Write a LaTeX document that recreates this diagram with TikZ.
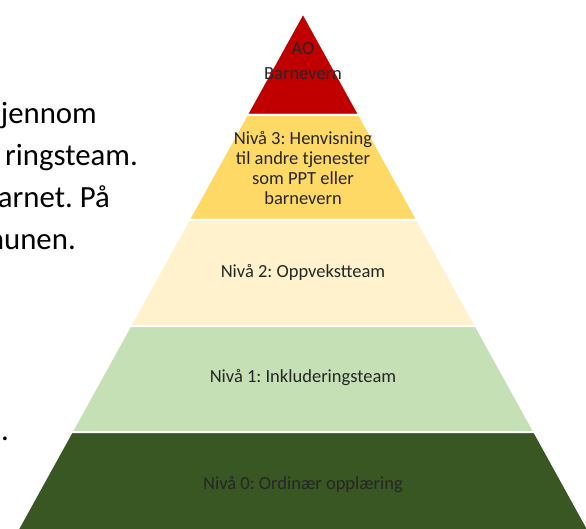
\documentclass[tikz,border=0pt]{standalone}
\usepackage{fontspec}
\setmainfont{Carlito}
\frenchspacing
\definecolor{lvlred}{HTML}{C00000}
\definecolor{lvlyellow}{HTML}{FFD966}
\definecolor{lvlcream}{HTML}{FFF2CC}
\definecolor{lvllight}{HTML}{C5E0B4}
\definecolor{lvldark}{HTML}{385723}
\newcommand{\pyrx}[2]{303#1 0.5523*(#2-13)}
\begin{document}
\begin{tikzpicture}[
    x=1pt, y=-1pt,
    layer/.style={draw=white, line width=2pt, line join=miter},
    lvltext/.style={font=\fontsize{18.5}{20}\selectfont, text=black!85, align=center, inner sep=0pt},
    bodytext/.style={font=\fontsize{30.8}{35}\selectfont, text=black, inner sep=0pt, anchor=base east}
]
\useasboundingbox (0,0) rectangle (586,529);
\clip (0,0) rectangle (586,529);
% pyramid layers, top to bottom
\foreach \ytop/\ybot/\col in {13/115/lvlred, 115/220/lvlyellow, 220/326/lvlcream, 326/432/lvllight, 432/545/lvldark}
    \filldraw[layer, fill=\col] ({\pyrx{-}{\ytop}},\ytop) -- ({\pyrx{+}{\ytop}},\ytop)
        -- ({\pyrx{+}{\ybot}},\ybot) -- ({\pyrx{-}{\ybot}},\ybot) -- cycle;
% level labels
\node[lvltext, font=\fontsize{18.5}{25}\selectfont] (lvlfour) at (303,61) {AO\\Barnevern};
\node[lvltext] (lvlthree) at (303,168) {Nivå 3: Henvisning\\til andre tjenester\\som PPT eller\\barnevern};
\node[lvltext] (lvltwo) at (303,272) {Nivå 2: Oppvekstteam};
\node[lvltext] (lvlone) at (303,378) {Nivå 1: Inkluderingsteam};
\node[lvltext] (lvlzero) at (303,485) {Nivå 0: Ordinær opplæring};
% body text cut off at the left
\node[bodytext] (lineA) at (97,124) {jennom};
\node[bodytext] (lineB) at (138,166) {ringsteam.};
\node[bodytext] (lineC) at (110,208) {arnet. På};
\node[bodytext] (lineD) at (76,250) {munen.};
\node[bodytext] (lineE) at (9,440) {.};
\end{tikzpicture}
\end{document}
